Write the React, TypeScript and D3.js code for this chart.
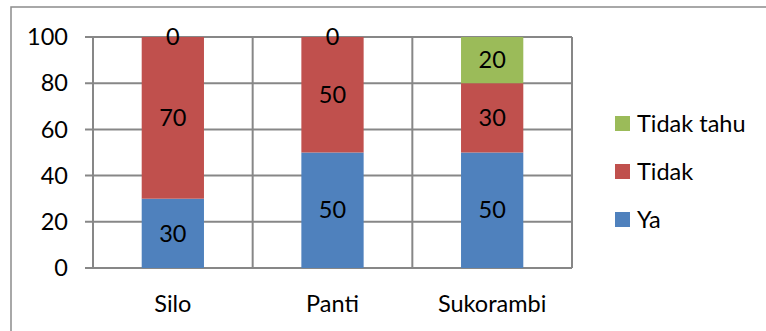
import { useEffect } from "react";
import * as d3 from "d3";

const categories = ["Silo", "Panti", "Sukorambi"];
const ya = [30, 50, 50];
const tidak = [70, 50, 30];
const tidakTahu = [0, 0, 20];
const yTicks = [0, 20, 40, 60, 80, 100];

const series = [
  { name: "Ya", values: ya, color: "#4F81BD" },
  { name: "Tidak", values: tidak, color: "#C0504D" },
  { name: "Tidak tahu", values: tidakTahu, color: "#9BBB59" },
];

const W = 766;
const H = 331;
const FONT = "Lato, 'Open Sans', sans-serif";
const FS = 23.5;
const GRID = "#878787";

export default function App() {
  useEffect(() => {
    document.body.style.margin = "0";
  }, []);

  const x = d3.scaleBand<string>().domain(categories).range([93, 572]);
  const y = d3.scaleLinear().domain([0, 100]).range([268, 37]);
  const barW = x.bandwidth() * 0.39;

  // stacked segments
  const stacks = categories.map((c, i) => {
    let base = 0;
    return series.map((s) => {
      const v = s.values[i];
      const seg = { cat: c, name: s.name, color: s.color, v, y0: base, y1: base + v };
      base += v;
      return seg;
    });
  });

  const legendOrder = [...series].reverse();

  return (
    <svg width={W} height={H} style={{ display: "block", background: "#fff" }} fontFamily={FONT}>
      <rect x={11} y={7} width={W} height={H} fill="none" stroke="#8c8c8c" strokeWidth={1.5} />

      {/* horizontal grid + ticks */}
      {yTicks.map((t) => (
        <g key={t}>
          <line x1={85} x2={572} y1={y(t)} y2={y(t)} stroke={GRID} strokeWidth={2} />
          <text x={68} y={y(t)} dy="0.35em" textAnchor="end" fontSize={FS} fill="#000">
            {t}
          </text>
        </g>
      ))}

      {/* vertical category grid */}
      {[...categories.map((c) => x(c)!), 572].map((vx, i) => (
        <line key={i} x1={vx} x2={vx} y1={37} y2={268} stroke={GRID} strokeWidth={2} />
      ))}

      {/* bars */}
      {stacks.map((segs) =>
        segs.map((s) => {
          const cx = x(s.cat)! + x.bandwidth() / 2;
          return (
            <rect
              key={s.cat + s.name}
              x={cx - barW / 2}
              y={y(s.y1)}
              width={barW}
              height={y(s.y0) - y(s.y1)}
              fill={s.color}
            />
          );
        })
      )}

      {/* data labels */}
      {stacks.map((segs) =>
        segs.map((s) => {
          const cx = x(s.cat)! + x.bandwidth() / 2;
          return (
            <text
              key={"l" + s.cat + s.name}
              x={cx}
              y={y((s.y0 + s.y1) / 2)}
              dy="0.35em"
              textAnchor="middle"
              fontSize={FS}
              fill="#000"
            >
              {s.v}
            </text>
          );
        })
      )}

      {/* category labels */}
      {categories.map((c) => (
        <text key={c} x={x(c)! + x.bandwidth() / 2} y={312} textAnchor="middle" fontSize={FS} fill="#000">
          {c}
        </text>
      ))}

      {/* legend */}
      {legendOrder.map((s, i) => {
        const cy = 123.5 + i * 48;
        return (
          <g key={s.name}>
            <rect x={615} y={cy - 7.5} width={15} height={15} fill={s.color} />
            <text x={637} y={cy} dy="0.35em" fontSize={FS} fill="#000">
              {s.name}
            </text>
          </g>
        );
      })}
    </svg>
  );
}
